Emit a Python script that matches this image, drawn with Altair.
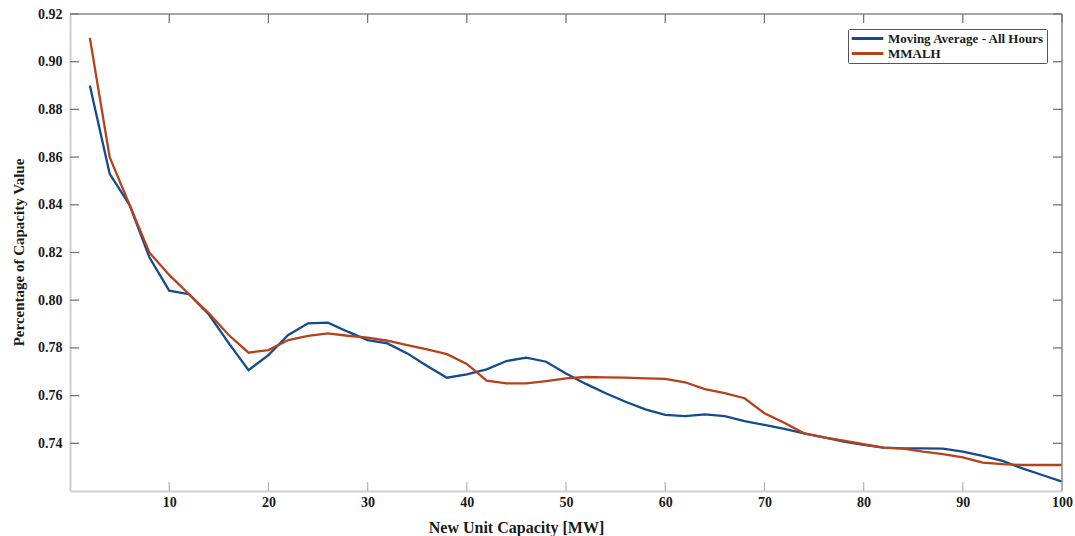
import altair as alt
import pandas as pd

capacity = [2, 4, 6, 8, 10, 12, 14, 16, 18, 20, 22, 24, 26, 28, 30, 32, 34, 36, 38, 40,
            42, 44, 46, 48, 50, 52, 54, 56, 58, 60, 62, 64, 66, 68, 70, 72, 74, 76, 78, 80,
            82, 84, 86, 88, 90, 92, 94, 96, 98, 100]

moving_avg = [0.890, 0.853, 0.840, 0.818, 0.804, 0.8025, 0.794, 0.782, 0.7707, 0.777,
              0.7854, 0.7903, 0.7906, 0.7868, 0.7833, 0.7819, 0.7777, 0.7724, 0.7675, 0.7689,
              0.771, 0.7745, 0.7759, 0.7742, 0.7693, 0.7649, 0.761, 0.7574, 0.7542, 0.7519,
              0.7514, 0.7521, 0.7514, 0.7493, 0.7477, 0.746, 0.7442, 0.7425, 0.7407, 0.7393,
              0.7382, 0.7379, 0.7379, 0.7378, 0.7365, 0.7347, 0.7326, 0.7295, 0.7267, 0.7239]

mmalh = [0.910, 0.860, 0.840, 0.820, 0.8106, 0.8025, 0.7945, 0.7854, 0.778, 0.7791,
         0.7833, 0.785, 0.7861, 0.7851, 0.7843, 0.783, 0.7812, 0.7794, 0.7774, 0.7733,
         0.7663, 0.7651, 0.7651, 0.7661, 0.7672, 0.7678, 0.7676, 0.7675, 0.7672, 0.767,
         0.7656, 0.7627, 0.761, 0.7589, 0.7526, 0.7486, 0.7442, 0.7425, 0.7411, 0.7396,
         0.7382, 0.7378, 0.7365, 0.7355, 0.7341, 0.7319, 0.7313, 0.7309, 0.7309, 0.7309]

series_names = ["Moving Average - All Hours", "MMALH"]
series_colors = ["#134c8e", "#b5421b"]

x_ticks = [10, 20, 30, 40, 50, 60, 70, 80, 90, 100]
y_ticks = [0.74, 0.76, 0.78, 0.80, 0.82, 0.84, 0.86, 0.88, 0.90, 0.92]

W, H = 992, 477
FONT = "Liberation Serif"

df = pd.DataFrame({
    "cap": capacity * 2,
    "value": moving_avg + mmalh,
    "series": [series_names[0]] * len(capacity) + [series_names[1]] * len(capacity),
})

xscale = alt.Scale(domain=[0, 100], nice=False, zero=False)
yscale = alt.Scale(domain=[0.72, 0.92], nice=False, zero=False)

lines = alt.Chart(df).mark_line(strokeWidth=2.3).encode(
    x=alt.X("cap:Q", scale=xscale,
            axis=alt.Axis(values=x_ticks, format="d", tickSize=0, grid=False,
                          domainColor="#cfcfcf", domainWidth=2,
                          labelFont=FONT, labelFontSize=14, labelFontWeight="bold",
                          labelColor="#1a1a1a", labelPadding=4, labelFlush=False,
                          title="New Unit Capacity [MW]", titleFont=FONT,
                          titleFontSize=16, titleFontWeight="bold", titleColor="#1a1a1a",
                          titleX=446, titleY=36, titleBaseline="middle")),
    y=alt.Y("value:Q", scale=yscale,
            axis=alt.Axis(values=y_ticks, format=".2f", tickSize=0, grid=False,
                          domainColor="#cfcfcf", domainWidth=2,
                          labelFont=FONT, labelFontSize=14, labelFontWeight="bold",
                          labelColor="#1a1a1a", labelPadding=8, labelFlush=False,
                          title="Percentage of Capacity Value", titleFont=FONT,
                          titleFontSize=15, titleFontWeight="bold", titleColor="#1a1a1a",
                          titleX=-52, titleY=238, titleAngle=-90,
                          titleAlign="center", titleBaseline="middle")),
    color=alt.Color("series:N",
                    scale=alt.Scale(domain=series_names, range=series_colors),
                    sort=series_names,
                    legend=alt.Legend(orient="none", legendX=778, legendY=15, title=None,
                                      symbolType="stroke", symbolSize=1000,
                                      symbolStrokeWidth=3, labelFont=FONT,
                                      labelFontSize=13, labelFontWeight="bold",
                                      labelColor="#1a1a1a", labelOffset=3,
                                      strokeColor="#555555", fillColor="white",
                                      padding=2, rowPadding=0, clipHeight=15,
                                      cornerRadius=1)),
)

ydf = pd.DataFrame({"v": y_ticks})
xdf = pd.DataFrame({"c": x_ticks})
one = pd.DataFrame({"a": [0]})

TL = 9
left_ticks = alt.Chart(ydf).mark_rule(color="#777777", strokeWidth=1.3).encode(
    y=alt.Y("v:Q", scale=yscale), x=alt.value(0), x2=alt.value(TL))
right_ticks = alt.Chart(ydf).mark_rule(color="#777777", strokeWidth=1.3).encode(
    y=alt.Y("v:Q", scale=yscale), x=alt.value(W - TL), x2=alt.value(W))
top_ticks = alt.Chart(xdf).mark_rule(color="#777777", strokeWidth=1.3).encode(
    x=alt.X("c:Q", scale=xscale), y=alt.value(0), y2=alt.value(TL))
bottom_ticks = alt.Chart(xdf).mark_rule(color="#bbbbbb", strokeWidth=1.3).encode(
    x=alt.X("c:Q", scale=xscale), y=alt.value(H - TL), y2=alt.value(H))

top_line = alt.Chart(one).mark_rule(color="#8a8a8a", strokeWidth=1.5).encode(
    x=alt.value(0), x2=alt.value(W), y=alt.value(0))
right_line = alt.Chart(one).mark_rule(color="#8a8a8a", strokeWidth=1.5).encode(
    x=alt.value(W), y=alt.value(0), y2=alt.value(H))

chart = alt.layer(
    lines, top_line, right_line, left_ticks, right_ticks, top_ticks, bottom_ticks
).properties(
    width=W, height=H,
    autosize=alt.AutoSizeParams(type="none"),
    padding={"left": 70, "top": 14, "right": 13, "bottom": 45},
    background="white",
).configure_view(stroke=None)

chart.save("out.html", embed_options={"renderer": "svg", "actions": False})
